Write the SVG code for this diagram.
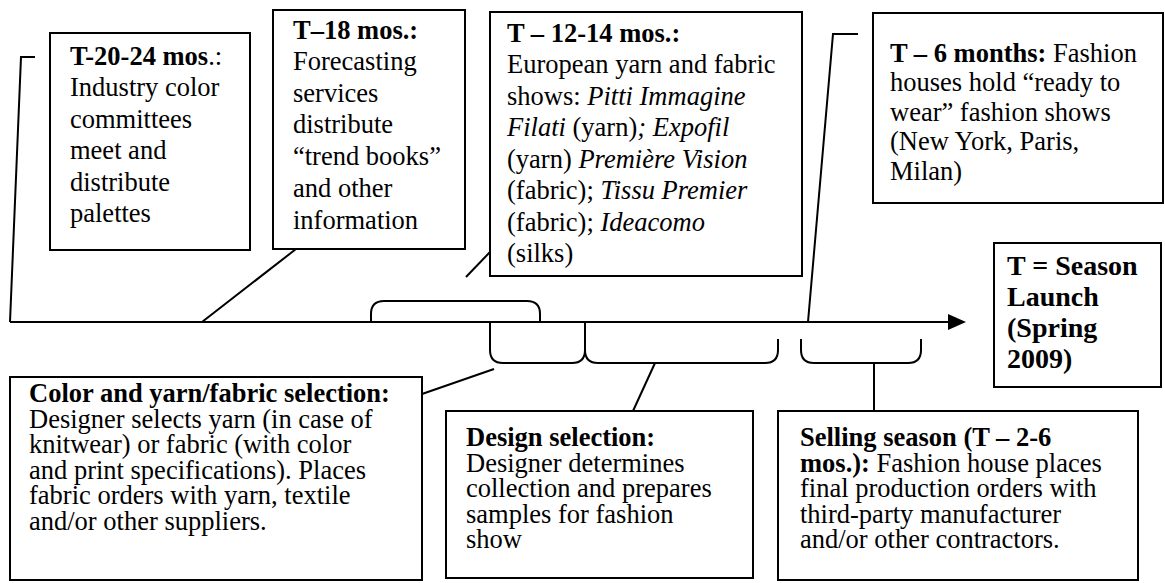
<svg xmlns="http://www.w3.org/2000/svg" width="1165" height="583" viewBox="0 0 1165 583">
  <style>
    .box { fill: #ffffff; stroke: #000000; stroke-width: 2; }
    .ln { fill: none; stroke: #000000; stroke-width: 2; }
    .t { font-family: "Liberation Serif", "Times New Roman", serif; font-size: 26.5px; fill: #000000; }
    .big { font-size: 28px; }
    .b { font-weight: bold; }
    .i { font-style: italic; }
  </style>

  <!-- timeline, brackets and leader lines -->
  <g id="connectors">
    <line class="ln" x1="10" y1="322" x2="952" y2="322"/>
    <polygon points="948,314 966,322 948,330" fill="#000000"/>
    <polyline class="ln" points="35,57 21,57 10,322"/>
    <line class="ln" x1="202" y1="322" x2="296" y2="249"/>
    <line class="ln" x1="466" y1="277" x2="490" y2="252"/>
    <polyline class="ln" points="858,34 833,34 808,322"/>
    <path class="ln" d="M371,323 V314 Q371,301 384,301 H527 Q540,301 540,314 V323"/>
    <path class="ln" d="M490,323 V350 Q490,363 503,363 H572 Q585,363 585,350 V323"/>
    <path class="ln" d="M585,350 Q585,363 598,363 H765 Q778,363 778,350 V339"/>
    <path class="ln" d="M801,339 V350 Q801,363 814,363 H908 Q921,363 921,350 V339"/>
    <line class="ln" x1="422" y1="394" x2="494" y2="369"/>
    <line class="ln" x1="655" y1="363" x2="633" y2="411"/>
    <line class="ln" x1="874" y1="363" x2="874" y2="411"/>
  </g>

  <g id="node-t20">
    <rect class="box" x="50" y="33" width="200" height="217"/>
    <text class="t" x="70" y="65"><tspan class="b">T-20-24 mos</tspan>.:</text>
    <text class="t" x="70" y="96">Industry color</text>
    <text class="t" x="70" y="128">committees</text>
    <text class="t" x="70" y="159">meet and</text>
    <text class="t" x="70" y="191">distribute</text>
    <text class="t" x="70" y="222">palettes</text>
  </g>

  <g id="node-t18">
    <rect class="box" x="273" y="10" width="192" height="239"/>
    <text class="t" x="293" y="39"><tspan class="b">T–18 mos.:</tspan></text>
    <text class="t" x="293" y="70">Forecasting</text>
    <text class="t" x="293" y="102">services</text>
    <text class="t" x="293" y="133">distribute</text>
    <text class="t" x="293" y="165">“trend books”</text>
    <text class="t" x="293" y="197">and other</text>
    <text class="t" x="293" y="229">information</text>
  </g>

  <g id="node-t12">
    <rect class="box" x="490" y="12" width="312" height="264"/>
    <text class="t" x="507" y="42"><tspan class="b">T – 12-14 mos.:</tspan></text>
    <text class="t" x="507" y="73">European yarn and fabric</text>
    <text class="t" x="507" y="105">shows: <tspan class="i">Pitti Immagine</tspan></text>
    <text class="t" x="507" y="136"><tspan class="i">Filati</tspan> (yarn)<tspan class="i">; Expofil</tspan></text>
    <text class="t" x="507" y="168">(yarn) <tspan class="i">Première Vision</tspan></text>
    <text class="t" x="507" y="199">(fabric); <tspan class="i">Tissu Premier</tspan></text>
    <text class="t" x="507" y="231">(fabric); <tspan class="i">Ideacomo</tspan></text>
    <text class="t" x="507" y="262">(silks)</text>
  </g>

  <g id="node-t6">
    <rect class="box" x="873" y="13" width="290" height="190"/>
    <text class="t" x="890" y="62"><tspan class="b">T – 6 months:</tspan> Fashion</text>
    <text class="t" x="890" y="91">houses hold “ready to</text>
    <text class="t" x="890" y="121">wear” fashion shows</text>
    <text class="t" x="890" y="150">(New York, Paris,</text>
    <text class="t" x="890" y="180">Milan)</text>
  </g>

  <g id="node-launch">
    <rect class="box" x="994" y="243" width="167" height="144"/>
    <text class="t big b" x="1007" y="275">T = Season</text>
    <text class="t big b" x="1007" y="306">Launch</text>
    <text class="t big b" x="1007" y="337">(Spring</text>
    <text class="t big b" x="1007" y="368">2009)</text>
  </g>

  <g id="node-color">
    <rect class="box" x="10" y="377" width="412" height="203"/>
    <text class="t b" x="29" y="402">Color and yarn/fabric selection:</text>
    <text class="t" x="29" y="427.5">Designer selects yarn (in case of</text>
    <text class="t" x="29" y="453">knitwear) or fabric (with color</text>
    <text class="t" x="29" y="478.5">and print specifications).  Places</text>
    <text class="t" x="29" y="504">fabric orders with yarn, textile</text>
    <text class="t" x="29" y="529.5">and/or other suppliers.</text>
  </g>

  <g id="node-design">
    <rect class="box" x="446" y="411" width="307" height="167"/>
    <text class="t b" x="466" y="446">Design selection:</text>
    <text class="t" x="466" y="471.5">Designer determines</text>
    <text class="t" x="466" y="497">collection and prepares</text>
    <text class="t" x="466" y="522.5">samples for fashion</text>
    <text class="t" x="466" y="548">show</text>
  </g>

  <g id="node-selling">
    <rect class="box" x="778" y="411" width="360" height="169"/>
    <text class="t" x="800" y="446"><tspan class="b">Selling season (T – 2-6</tspan></text>
    <text class="t" x="800" y="471.5"><tspan class="b">mos.):</tspan> Fashion house places</text>
    <text class="t" x="800" y="497">final production orders with</text>
    <text class="t" x="800" y="522.5">third-party manufacturer</text>
    <text class="t" x="800" y="548">and/or other contractors.</text>
  </g>
</svg>
